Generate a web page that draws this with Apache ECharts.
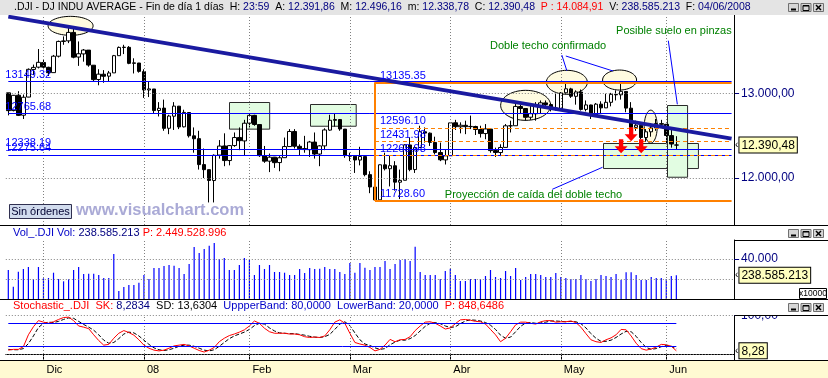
<!DOCTYPE html>
<html>
<head>
<meta charset="utf-8">
<script src="https://cdn.jsdelivr.net/npm/echarts@6/dist/echarts.min.js"></script>
<style>
  html, body { margin: 0; padding: 0; background: #fff; }
  #chart { width: 828px; height: 378px; }
</style>
</head>
<body>
<div id="chart"></div>
<script>
// ---- trading days shown (Nov 21 2007 .. Jun 4 2008) ----
const tradingDays = [
  ['2007-11', [21, 23, 26, 27, 28, 29, 30]],
  ['2007-12', [3, 4, 5, 6, 7, 10, 11, 12, 13, 14, 17, 18, 19, 20, 21, 24, 26, 27, 28, 31]],
  ['2008-01', [2, 3, 4, 7, 8, 9, 10, 11, 14, 15, 16, 17, 18, 22, 23, 24, 25, 28, 29, 30, 31]],
  ['2008-02', [1, 4, 5, 6, 7, 8, 11, 12, 13, 14, 15, 19, 20, 21, 22, 25, 26, 27, 28, 29]],
  ['2008-03', [3, 4, 5, 6, 7, 10, 11, 12, 13, 14, 17, 18, 19, 20, 24, 25, 26, 27, 28, 31]],
  ['2008-04', [1, 2, 3, 4, 7, 8, 9, 10, 11, 14, 15, 16, 17, 18, 21, 22, 23, 24, 25, 28, 29, 30]],
  ['2008-05', [1, 2, 5, 6, 7, 8, 9, 12, 13, 14, 15, 16, 19, 20, 21, 22, 23, 27, 28, 29, 30]],
  ['2008-06', [2, 3, 4]]
];
const monthLabels = { '2007-12': 'Dic', '2008-01': '08', '2008-02': 'Feb', '2008-03': 'Mar',
  '2008-04': 'Abr', '2008-05': 'May', '2008-06': 'Jun' };
const emptyDaysRight = 11;

// ---- DJI daily prices ----
const open = [
  13010, 12800, 12982, 12745, 12960, 13288, 13315,
  13370, 13313, 13250, 13445, 13620, 13627, 13727, 13435, 13472, 13517, 13338, 13168, 13231, 13208, 13247, 13451, 13548, 13550, 13360, 13364,
  13262, 13044, 13056, 12801, 12829, 12590, 12733, 12852, 12607, 12777, 12500, 12467, 12159, 12099, 11970, 12272, 12380, 12207, 12385, 12481, 12440,
  12650, 12743, 12634, 12265, 12200, 12247, 12183, 12241, 12373, 12552, 12376, 12349, 12336, 12426, 12284, 12381, 12568, 12684, 12693, 12580,
  12266, 12258, 12213, 12254, 12040, 11893, 11741, 12156, 12110, 12145, 11950, 11973, 12392, 12100, 12362, 12548, 12532, 12422, 12302, 12215,
  12264, 12655, 12608, 12625, 12609, 12611, 12575, 12527, 12580, 12325, 12302, 12363, 12618, 12620, 12848, 12824, 12721, 12762, 12848, 12891, 12871, 12831,
  12821, 13011, 13057, 12969, 13020, 12814, 12866, 12746, 12876, 12832, 12898, 12992, 12987, 13027, 12828, 12601, 12625, 12480, 12548, 12593, 12645,
  12637, 12503, 12391.86
];
const close = [
  12799, 12981, 12743, 12958, 13289, 13312, 13372,
  13315, 13249, 13445, 13620, 13626, 13727, 13433, 13474, 13518, 13340, 13167, 13232, 13207, 13246, 13451, 13549, 13552, 13360, 13366, 13265,
  13044, 13057, 12800, 12827, 12589, 12735, 12853, 12606, 12778, 12501, 12466, 12159, 12099, 11971, 12270, 12379, 12207, 12384, 12480, 12443, 12650,
  12743, 12635, 12265, 12200, 12247, 12182, 12240, 12373, 12552, 12377, 12348, 12337, 12427, 12284, 12381, 12570, 12685, 12694, 12582, 12266,
  12259, 12214, 12255, 12040, 11894, 11740, 12157, 12110, 12146, 11951, 11972, 12393, 12100, 12361, 12549, 12533, 12423, 12302, 12216, 12263,
  12654, 12609, 12626, 12609, 12612, 12576, 12527, 12582, 12325, 12302, 12362, 12619, 12620, 12849, 12825, 12720, 12763, 12849, 12892, 12872, 12832, 12820,
  13010, 13058, 12970, 13021, 12814, 12867, 12746, 12876, 12832, 12898, 12993, 12987, 13028, 12829, 12601, 12626, 12480, 12548, 12594, 12646, 12638,
  12504, 12403, 12390.48
];
const low = [
  12743, 12790, 12735, 12700, 12958, 13220, 13300,
  13290, 13210, 13250, 13430, 13580, 13600, 13420, 13330, 13380, 13320, 13150, 13100, 13130, 13150, 13247, 13451, 13470, 13350, 13240, 13250,
  12950, 12960, 12760, 12730, 12560, 12520, 12570, 12580, 12600, 12480, 12300, 12100, 12000, 11710, 11710, 12230, 12140, 12150, 12370, 12330, 12270,
  12600, 12620, 12250, 12180, 12070, 12120, 12080, 12240, 12373, 12350, 12270, 12300, 12250, 12230, 12140, 12330, 12560, 12610, 12560, 12240,
  12200, 12060, 12150, 12020, 11820, 11728.6, 11741, 12090, 11900, 11850, 11750, 11973, 12080, 12060, 12360, 12420, 12380, 12280, 12200, 12160,
  12264, 12570, 12530, 12520, 12580, 12510, 12480, 12460, 12300, 12250, 12260, 12363, 12540, 12620, 12770, 12680, 12690, 12680, 12760, 12840, 12790, 12800,
  12800, 13000, 12950, 12870, 12800, 12790, 12700, 12740, 12760, 12830, 12850, 12920, 12930, 12780, 12580, 12560, 12460, 12430, 12490, 12560, 12600,
  12400, 12360, 12338.78
];
const high = [
  13010, 12985, 13030, 12990, 13300, 13345, 13530,
  13400, 13320, 13460, 13630, 13680, 13780, 13770, 13620, 13530, 13517, 13340, 13290, 13280, 13270, 13460, 13560, 13580, 13565, 13420, 13365,
  13290, 13150, 13056, 12900, 12930, 12750, 12900, 12855, 12810, 12780, 12600, 12560, 12350, 12099, 12280, 12450, 12530, 12390, 12540, 12600, 12690,
  12770, 12750, 12634, 12380, 12290, 12250, 12260, 12480, 12580, 12580, 12400, 12500, 12440, 12540, 12390, 12590, 12750, 12770, 12700, 12580,
  12300, 12260, 12370, 12254, 12080, 11940, 12160, 12300, 12270, 12200, 12100, 12400, 12480, 12380, 12620, 12600, 12540, 12490, 12420, 12340,
  12660, 12690, 12660, 12680, 12740, 12620, 12620, 12640, 12580, 12360, 12400, 12640, 12680, 12880, 12870, 12830, 12860, 12900, 12920, 12920, 12890, 13000,
  13020, 13140, 13070, 13040, 13050, 12920, 12870, 12890, 12910, 13000, 13010, 13040, 13140, 13030, 12900, 12680, 12630, 12580, 12650, 12700, 12690,
  12640, 12600, 12496.16
];
// volume, in units of 10000 shares
const volume = [
  29000, 12300, 27300, 30000, 32000, 20000, 32000,
  20700, 21000, 26300, 20000, 17700, 19700, 29000, 32000, 25000, 25300, 25300, 24000, 21000, 21000, 45000, 8000, 12000, 14000, 14000, 16300,
  24000, 20000, 31000, 31000, 33000, 34000, 33300, 31000, 25000, 35000, 52000, 46000, 50000, 53300, 56000, 40000, 41000, 29000, 29000, 34000, 41000,
  39000, 24000, 34000, 30000, 34000, 27000, 27000, 26300, 24000, 24000, 30000, 26000, 31000, 30000, 30300, 32000, 30000, 30000, 27000, 25000,
  36000, 26300, 36000, 31300, 29000, 32000, 32000, 38000, 30000, 35000, 39000, 40000, 38000, 52300, 27000, 24000, 24000, 24000, 20000, 28000,
  30300, 24000, 18000, 18000, 20000, 20000, 20000, 23000, 29000, 22000, 21000, 28000, 23000, 31000, 19000, 22000, 25000, 25000, 24000, 22000, 22000, 26000,
  22000, 21000, 20000, 20000, 24000, 20000, 18000, 20000, 24000, 23000, 22000, 25000, 19000, 26700, 26700, 24000, 19000, 19000, 22000, 21000, 21000,
  20000, 23000, 23858.5213
];
// stochastic %K and %D
const stochK = [
  10, 12, 12, 19, 50, 71, 87,
  83, 80, 84, 90, 95, 96, 87, 73, 70, 66, 50, 35, 23, 25, 41, 54, 61, 56, 49, 37,
  23, 15, 10, 8, 10, 15, 21, 23, 25, 21, 15, 9, 5, 10, 17, 32, 41, 48, 52, 57, 63,
  73, 86, 80, 67, 58, 54, 54, 54, 52, 52, 50, 45, 43, 44, 43, 47, 63, 83, 89, 80,
  54, 30, 26, 23, 17, 8, 12, 23, 38, 32, 37, 38, 45, 61, 73, 83, 84, 80, 73, 65,
  68, 79, 89, 90, 88, 85, 84, 78, 64, 50, 32, 41, 58, 76, 83, 83, 80, 78, 84, 87, 87, 83,
  84, 84, 86, 82, 70, 53, 37, 32, 30, 37, 42, 50, 64, 63, 47, 28, 14, 10, 13, 18, 25,
  24, 20, 8.28
];
const stochD = [
  12, 11, 11, 14, 27, 47, 69,
  80, 83, 82, 85, 90, 94, 93, 85, 77, 70, 62, 50, 36, 28, 30, 40, 52, 57, 55, 47,
  36, 25, 16, 11, 9, 11, 15, 20, 23, 23, 20, 15, 10, 8, 11, 20, 30, 40, 47, 52, 57,
  64, 74, 80, 78, 68, 60, 55, 54, 53, 53, 51, 49, 46, 44, 43, 45, 51, 64, 78, 84,
  74, 55, 37, 26, 22, 16, 12, 14, 24, 31, 36, 36, 40, 48, 60, 72, 80, 82, 79, 73,
  69, 71, 79, 86, 89, 88, 86, 82, 75, 64, 49, 41, 44, 58, 72, 81, 82, 80, 81, 83, 86, 86,
  85, 84, 85, 84, 79, 68, 53, 41, 33, 33, 36, 43, 52, 59, 58, 46, 30, 17, 12, 14, 19,
  22, 20, 13.63
];

// ---- drawn levels ----
const blueLevels = [13149.32, 12765.68, 12338.19, 12275.64];
const swingIdx = 73;                        // Mar 10 2008
const swingHigh = 13135.35, swingLow = 11728.60;
const fibLevels = [12596.10, 12431.98, 12265.98];
const trendStart = 13914, trendEnd = 12467;  // price at first / last category
const arrows = [[122, 12378], [124, 12520], [126, 12378]];
const lastClose = 12390.48, lastK = 8.28;

// annotations in (category index, price)
const ellipses = [
  { at: [12.4, 13805], r: [22.5, 9.5] },
  { at: [103.0, 12862], r: [25, 15] },
  { at: [111.2, 13135], r: [20.5, 12] },
  { at: [121.7, 13162], r: [17, 10] },
  { at: [127.9, 12609], r: [6.5, 16.5] }
];
const greenBoxes = [
  [[44.0, 12901], [52.0, 12585]],
  [[60.1, 12878], [69.2, 12620]],
  [[118.3, 12412], [137.2, 12115]],
  [[131.2, 12866], [135.2, 12015]]
];
const notes = [
  { text: 'Doble techo confirmado', at: [95.9, 13566] },
  { text: 'Posible suelo en pinzas', at: [121.0, 13744] },
  { text: 'Proyección de caída del doble techo', at: [86.9, 11798] }
];
const connectors = [
  [[110.2, 13459], [111.2, 13273]],
  [[111.0, 13447], [120.4, 13269]],
  [[131.4, 13629], [133.2, 12874]],
  [[108.3, 11866], [118.3, 12127]]
];

// ---- build categories ----
const dates = [];
const monthTicks = {};
tradingDays.forEach(([m, days]) => {
  if (monthLabels[m]) monthTicks[dates.length] = monthLabels[m];
  days.forEach(d => dates.push(m + '-' + String(d).padStart(2, '0')));
});
const categories = dates.concat(Array.from({ length: emptyDaysRight }, (_, i) => 'x' + i));
const lastCat = categories.length - 1;
const lastBar = dates.length - 1;
const monthIdx = Object.keys(monthTicks).map(Number);
const candles = dates.map((d, i) => [open[i], close[i], low[i], high[i]]);
const lastVolume = volume[lastBar];

const FONT = '"Liberation Sans", Arial, sans-serif';
const NAVY = '#000080', BLUE = '#0000ff', ORANGE = '#ff8000', GREEN = '#008000';
const dotted = () => ({ color: '#808080', type: [1, 2], width: 1 });
const solid = (color, width) => ({ color: color, width: width, type: 'solid', opacity: 1 });

function esNum(v, dec) {
  const parts = v.toFixed(dec).split('.');
  const intPart = parts[0].replace(/\B(?=(\d{3})+(?!\d))/g, '.');
  return parts[1] ? intPart + ',' + parts[1] : intPart;
}

// last-value tag shown at the right axis
function valueBox(v, txt) {
  return {
    yAxis: v,
    lineStyle: { color: 'rgba(0,0,0,0)', width: 1, type: 'solid' },
    label: {
      show: true, position: 'end', distance: 1,
      formatter: '{a|‹}{b|' + txt + '}',
      rich: {
        a: { color: '#000', fontSize: 10, fontFamily: FONT, padding: [0, 1, 0, 0] },
        b: { color: '#000', fontSize: 12, fontFamily: FONT, backgroundColor: '#ffffc0',
             borderColor: '#000', borderWidth: 1, padding: [2, 2, 1, 2] }
      }
    }
  };
}
const monthLines = () => monthIdx.map(i => ({ xAxis: i, lineStyle: dotted() }));
const levelLabel = (txt, dx) => ({
  show: true, position: 'insideStartTop', distance: [dx, 1], formatter: txt,
  color: BLUE, fontSize: 11, fontFamily: FONT
});
const markLineBase = { silent: true, symbol: ['none', 'none'], animation: false, label: { show: false } };

function xAxisFor(g) {
  const bottom = g === 2;
  const isTick = i => monthTicks[i] !== undefined;
  return {
    type: 'category', gridIndex: g, data: categories, boundaryGap: true,
    axisLine: { show: bottom, lineStyle: { color: '#000', width: 1 } },
    axisTick: { show: bottom, alignWithLabel: true, length: 7, interval: isTick, lineStyle: { color: '#000' } },
    axisLabel: {
      show: bottom, interval: isTick, formatter: (v, i) => monthTicks[i] || '',
      align: 'left', margin: 4, padding: [0, 0, 0, 3], color: '#000', fontSize: 11, fontFamily: FONT
    },
    splitLine: { show: false }
  };
}

function yAxisFor(g, min, max, ticks, fmt) {
  return {
    type: 'value', gridIndex: g, position: 'right', min: min, max: max,
    axisLine: { show: true, lineStyle: { color: '#000' } },
    axisTick: { show: true, length: 5, customValues: ticks, lineStyle: { color: NAVY } },
    axisLabel: { customValues: ticks, formatter: fmt, color: NAVY, fontSize: 12, fontFamily: FONT, margin: 7 },
    splitLine: { show: false }
  };
}

const chart = echarts.init(document.getElementById('chart'));

const gridBase = { left: 5.8, right: 93.9, outerBoundsMode: 'none', containLabel: false };
const option = {
  animation: false,
  backgroundColor: '#fff',
  grid: [
    Object.assign({ top: 15, height: 210 }, gridBase),
    Object.assign({ top: 240, height: 59 }, gridBase),
    Object.assign({ top: 315.63, height: 44.37 }, gridBase)
  ],
  xAxis: [xAxisFor(0), xAxisFor(1), xAxisFor(2)],
  yAxis: [
    yAxisFor(0, 11442.5, 13933.6, [12000, 13000], v => esNum(v, 2)),
    yAxisFor(1, 0, 59000, [40000], v => esNum(v, 0)),
    yAxisFor(2, -15.75, 100, [100], v => esNum(v, 2))
  ],
  series: [
    {
      // support / resistance levels drawn on the price panel
      name: 'levels', type: 'line', xAxisIndex: 0, yAxisIndex: 0, data: [],
      lineStyle: { color: BLUE }, itemStyle: { color: BLUE }, z: 3,
      markLine: Object.assign({}, markLineBase, {
        data: [
          { yAxis: 13000, lineStyle: dotted() },
          { yAxis: 12000, lineStyle: dotted() },
          ...monthLines(),
          ...blueLevels.map(v => [{ coord: [0, v], lineStyle: solid(BLUE, 1),
                                    label: levelLabel(v.toFixed(2), -3) }, { coord: [lastCat, v] }]),
          [{ coord: [swingIdx, swingHigh], lineStyle: solid(ORANGE, 2),
             label: levelLabel(swingHigh.toFixed(2), 5) }, { coord: [lastCat, swingHigh] }],
          [{ coord: [swingIdx, swingLow], lineStyle: solid(ORANGE, 2),
             label: levelLabel(swingLow.toFixed(2), 5) }, { coord: [lastCat, swingLow] }],
          [{ coord: [swingIdx, swingHigh], lineStyle: solid(ORANGE, 2) }, { coord: [swingIdx, swingLow] }],
          ...fibLevels.map(v => [{ coord: [swingIdx, v], lineStyle: { color: ORANGE, width: 1, type: [4, 3] },
                                   label: levelLabel(v.toFixed(2), 5) }, { coord: [lastCat, v] }]),
          [{ coord: [0, trendStart], lineStyle: solid('#1a1aa0', 4) }, { coord: [lastCat, trendEnd] }],
          valueBox(lastClose, esNum(lastClose, 2))
        ]
      })
    },
    {
      name: 'DJI', type: 'candlestick', xAxisIndex: 0, yAxisIndex: 0,
      data: candles, barWidth: 4,
      itemStyle: { color: '#fff', color0: '#000', borderColor: '#000', borderColor0: '#000', borderWidth: 1 },
      markPoint: {
        silent: true, animation: false,
        symbol: 'path://M4,0 L8,0 L8,7 L12,7 L6,14 L0,7 L4,7 Z',
        symbolSize: [13, 14],
        itemStyle: { color: '#ff0000' },
        label: { show: false },
        data: arrows.map(a => ({ coord: a }))
      }
    },
    {
      name: 'Vol', type: 'bar', xAxisIndex: 1, yAxisIndex: 1,
      data: volume, barWidth: 1.2,
      itemStyle: { color: BLUE },
      markLine: Object.assign({}, markLineBase, {
        data: [
          { yAxis: 20000, lineStyle: dotted() },
          { yAxis: 40000, lineStyle: dotted() },
          ...monthLines(),
          valueBox(lastVolume, esNum(Math.round(lastVolume * 10000), 0))
        ]
      })
    },
    {
      name: 'SD', type: 'line', xAxisIndex: 2, yAxisIndex: 2,
      data: stochD, symbol: 'none',
      lineStyle: { color: '#000', width: 1, type: [4, 2] }
    },
    {
      name: 'SK', type: 'line', xAxisIndex: 2, yAxisIndex: 2,
      data: stochK, symbol: 'none',
      lineStyle: { color: '#ff0000', width: 1 },
      markLine: Object.assign({}, markLineBase, {
        data: [
          { yAxis: 100, lineStyle: dotted() },
          { yAxis: 0, lineStyle: dotted() },
          ...monthLines(),
          [{ coord: [0, 80], lineStyle: solid(BLUE, 1) }, { coord: [lastBar, 80] }],
          [{ coord: [0, 20], lineStyle: solid(BLUE, 1) }, { coord: [lastBar, 20] }],
          valueBox(lastK, esNum(lastK, 2))
        ]
      })
    }
  ]
};
chart.setOption(option);

// ---- annotations & window chrome ----
function px(idx, price) {
  const a = chart.convertToPixel({ gridIndex: 0 }, [0, price]);
  const b = chart.convertToPixel({ gridIndex: 0 }, [100, price]);
  return [a[0] + (b[0] - a[0]) * idx / 100, a[1]];
}
function rect(x, y, w, h, fill, stroke, z) {
  return { type: 'rect', silent: true, z: z, shape: { x: x, y: y, width: w, height: h },
           style: { fill: fill, stroke: stroke || null, lineWidth: stroke ? 1 : 0 } };
}
function seg(x1, y1, x2, y2, color, z, w) {
  return { type: 'line', silent: true, z: z, shape: { x1: x1, y1: y1, x2: x2, y2: y2 },
           style: { stroke: color, lineWidth: w || 1 } };
}
function txt(x, y, text, size, fill, z, rich, align, weight) {
  const r = {};
  Object.keys(rich || {}).forEach(k => {
    r[k] = { fill: rich[k], fontSize: size, fontFamily: FONT, fontWeight: weight || 'normal' };
  });
  return { type: 'text', silent: true, z: z,
           style: { x: x, y: y, text: text, fill: fill, rich: r,
                    fontSize: size, fontFamily: FONT, fontWeight: weight || 'normal',
                    align: align || 'left', verticalAlign: 'middle',
                    textAlign: align || 'left', textVerticalAlign: 'middle' } };
}
function winButtons(y) {
  const els = [];
  [788, 800.5, 813].forEach((x, i) => {
    els.push(rect(x + 0.5, y + 0.5, 10, 8, '#d6d6d6', '#707070', 102));
    if (i === 0) els.push(seg(x + 3, y + 6.5, x + 8, y + 6.5, '#000', 103, 2));
    if (i === 1) {
      els.push(rect(x + 2.5, y + 2.5, 6, 5, null, '#000', 103));
      els.push(seg(x + 2.5, y + 3, x + 8.5, y + 3, '#000', 103, 1));
    }
    if (i === 2) {
      els.push(seg(x + 3, y + 2, x + 8, y + 7, '#000', 103, 1.5));
      els.push(seg(x + 8, y + 2, x + 3, y + 7, '#000', 103, 1.5));
    }
  });
  return els;
}
const g = [];
// background band under the date axis
g.push(rect(0, 360.5, 828, 18, '#fffad2', null, -10));
// title bar
g.push(rect(0, 0, 828, 15, '#e4e4e4', null, 100));
g.push(txt(14, 7.5,
  '{k|.DJI - DJ INDU AVERAGE - Fin de día 1 días  H: }{v|23:59}{k|  A: }{v|12.391,86}{k|  M: }{v|12.496,16}' +
  '{k|  m: }{v|12.338,78}{k|  C: }{v|12.390,48}{r|  P : 14.084,91}{k|  V: }{v|238.585.213}{k|  F: }{v|04/06/2008}',
  10.5, '#000', 101, { k: '#000', v: NAVY, r: '#ff0000' }));
g.push(...winButtons(3));
// panel separators
g.push(seg(0, 225.5, 828, 225.5, '#000', 100));
g.push(seg(0, 299.5, 828, 299.5, '#000', 100));
g.push(seg(0, 360.5, 828, 360.5, '#000', 100));
g.push(seg(734.5, 15, 734.5, 225, '#000', 100));
g.push(seg(734.5, 240.5, 828, 240.5, '#000', 100));
g.push(rect(735, 300.5, 93, 15, '#fff', null, 50));
g.push(seg(734.5, 315.5, 828, 315.5, '#000', 100));
// panel headers
g.push(txt(13, 232.5, '{b|Vol_.DJI Vol: }{v|238.585.213}{r| P: 2.449.528.996}', 11, '#000', 101,
  { b: '#0000c8', v: NAVY, r: '#ff0000' }));
g.push(...winButtons(229));
g.push(txt(13, 305.5,
  '{r|Stochastic_.DJI  SK: }{v|8,2834}{k|  SD: 13,6304}{b|  UppperBand: 80,0000  LowerBand: 20,0000}{r|  P: 848,6486}',
  11, '#000', 101, { r: '#ff0000', v: NAVY, k: '#000', b: '#0000c8' }));
g.push(...winButtons(303));
g.push(rect(799.5, 288.5, 27, 10, '#fff', '#000', 101));
g.push(txt(813, 293.8, 'x10000', 8.5, '#000', 102, null, 'center'));
// order button + site mark
g.push(rect(9.5, 204.5, 62, 14, '#d2dcee', '#303050', 101));
g.push(txt(40.5, 211.5, 'Sin órdenes', 11, '#000030', 102, null, 'center'));
g.push(txt(76, 210.5, 'www.visualchart.com', 16.5, '#aaaad6', 101, null, 'left', 'bold'));
// green boxes and ellipses (behind the candles)
greenBoxes.forEach(([a, b]) => {
  const p = px(a[0], a[1]), q = px(b[0], b[1]);
  g.push(rect(Math.round(p[0]) + 0.5, Math.round(p[1]) + 0.5, q[0] - p[0], q[1] - p[1], '#e2fde2', '#2a2a2a', 1));
});
ellipses.forEach(e => {
  const c = px(e.at[0], e.at[1]);
  const pts = [];
  for (let k = 0; k < 60; k++) {
    const t = k / 60 * Math.PI * 2;
    pts.push([c[0] + e.r[0] * Math.cos(t), c[1] + e.r[1] * Math.sin(t)]);
  }
  g.push({ type: 'polygon', silent: true, z: 1, shape: { points: pts },
           style: { fill: '#fffbe0', stroke: '#000', lineWidth: 1 } });
});
connectors.forEach(([a, b]) => {
  const p = px(a[0], a[1]), q = px(b[0], b[1]);
  g.push(seg(p[0], p[1], q[0], q[1], BLUE, 60));
});
notes.forEach(n => {
  const p = px(n.at[0], n.at[1]);
  g.push(txt(p[0], p[1], n.text, 11, GREEN, 60));
});
chart.setOption({ graphic: { elements: g } });
</script>
</body>
</html>
